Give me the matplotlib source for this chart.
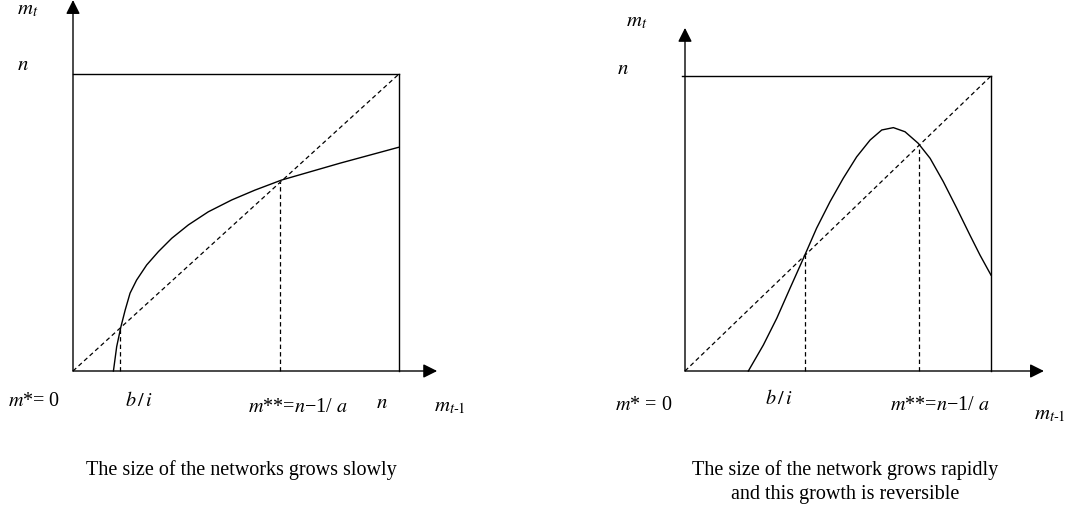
import matplotlib
matplotlib.use("Agg")
import matplotlib.pyplot as plt

plt.rcParams['font.family'] = ['Liberation Serif', 'DejaVu Serif']
plt.rcParams['mathtext.fontset'] = 'stix'

# curves, in units of n (x = m_{t-1}/n, y = m_t/n)
slow_x = [0.124, 0.134, 0.147, 0.160, 0.175, 0.195, 0.226, 0.262, 0.303, 0.354,
          0.415, 0.487, 0.558, 0.640, 0.820, 0.998]
slow_y = [0.0, 0.082, 0.149, 0.205, 0.262, 0.306, 0.357, 0.402, 0.447, 0.492,
          0.536, 0.576, 0.609, 0.643, 0.700, 0.753]
slow_fixed = [0.144, 0.635]

fast_x = [0.207, 0.256, 0.300, 0.343, 0.387, 0.430, 0.474, 0.517, 0.561, 0.605,
          0.643, 0.681, 0.719, 0.762, 0.801, 0.844, 0.888, 0.931, 0.964, 1.0]
fast_y = [0.0, 0.088, 0.179, 0.280, 0.382, 0.484, 0.574, 0.653, 0.726, 0.783,
          0.817, 0.825, 0.811, 0.772, 0.721, 0.642, 0.552, 0.461, 0.393, 0.325]
fast_fixed = [0.392, 0.764]

W, H = 1070, 512
fig = plt.figure(figsize=(W / 100, H / 100), dpi=100)


def px(x, y):
    return x / W, 1 - y / H


def panel(x0, y0, x1, y1, cx, cy, fixed, xtip, ytip, top_start):
    ax = fig.add_axes([x0 / W, 1 - y0 / H, (x1 - x0) / W, (y0 - y1) / H])
    ax.set_xlim(0, 1)
    ax.set_ylim(0, 1)
    ax.axis('off')
    kw = dict(color='black', lw=1.0, clip_on=False)
    # box
    ax.plot([top_start, 1], [1, 1], **kw)
    ax.plot([1, 1], [0, 1], **kw)
    # axes with arrows
    arrow = dict(arrowstyle='-|>,head_length=0.6,head_width=0.3', color='black',
                 lw=1.0, shrinkA=0, shrinkB=0, mutation_scale=14)
    ax.annotate('', xy=(xtip, 0), xytext=(0, 0), arrowprops=arrow, annotation_clip=False)
    ax.annotate('', xy=(0, ytip), xytext=(0, 0), arrowprops=arrow, annotation_clip=False)
    # 45 degree line
    ax.plot([0, 1], [0, 1], color='black', lw=0.9, ls=(0, (3.5, 2.5)), clip_on=False)
    # fixed points
    for f in fixed:
        ax.plot([f, f], [0, f], color='black', lw=0.9, ls=(0, (3.5, 2.5)), clip_on=False)
    ax.plot(cx, cy, **kw)
    return ax


panel(73, 371, 399, 74, slow_x, slow_y, slow_fixed, 1.117, 1.249, 0.0)
panel(685, 371, 991, 76, fast_x, fast_y, fast_fixed, 1.173, 1.163, -0.01)

lab = dict(ha='center', va='center', fontsize=15)
small = dict(ha='center', va='center', fontsize=14.5)
cap = dict(ha='center', va='center', fontsize=14.5)
mss = r'$m$**=$n$−1/ $a$'

# left panel labels
fig.text(*px(28, 10), r'$m_t$', **lab)
fig.text(*px(23, 65), r'$n$', **lab)
fig.text(*px(34, 401), r'$m$*= 0', **small)
fig.text(*px(139, 401), r'$b\,/\,i$', **small)
fig.text(*px(298, 407), mss, **small)
fig.text(*px(382, 403), r'$n$', **lab)
fig.text(*px(450, 407), r'$m_{t\text{-}\mathit{1}}$', **lab)
fig.text(*px(241, 470), 'The size of the networks grows slowly', **cap)

# right panel labels
fig.text(*px(637, 22), r'$m_t$', **lab)
fig.text(*px(623, 70), r'$n$', **lab)
fig.text(*px(644, 405), r'$m$* = 0', **small)
fig.text(*px(779, 400), r'$b\,/\,i$', **small)
fig.text(*px(940, 406), mss, **small)
fig.text(*px(1050, 415), r'$m_{t\text{-}\mathit{1}}$', **lab)
fig.text(*px(845, 470), 'The size of the network grows rapidly', **cap)
fig.text(*px(845, 494), 'and this growth is reversible', **cap)

fig.savefig('out.png', dpi=100)
